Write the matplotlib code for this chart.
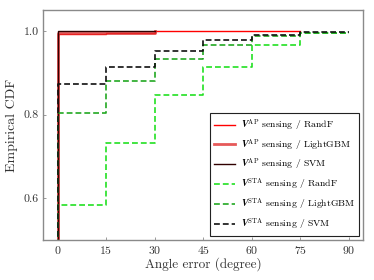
import matplotlib
matplotlib.use("Agg")
import matplotlib.pyplot as plt

plt.rcParams['font.family'] = ['cmr10', 'DejaVu Serif']
plt.rcParams['mathtext.fontset'] = 'cm'
plt.rcParams['axes.formatter.use_mathtext'] = True

# Angle error bins (degree)
ap_rf_x = [0, 0, 15, 30, 75]
ap_rf_y = [0, 0.992, 0.994, 0.9995, 1.0]
ap_lgbm_x = [0, 0, 15, 30]
ap_lgbm_y = [0, 0.994, 0.996, 1.0]
ap_svm_x = [0, 0, 30]
ap_svm_y = [0, 0.999, 1.0]

sta_x = [0, 0, 15, 30, 45, 60, 75, 90]
sta_rf_y = [0, 0.583, 0.731, 0.848, 0.914, 0.967, 0.994, 0.994]
sta_lgbm_y = [0, 0.803, 0.881, 0.934, 0.966, 0.987, 0.995, 0.995]
sta_svm_y = [0, 0.872, 0.915, 0.953, 0.978, 0.991, 0.998, 0.998]

labels = [
    r'$\mathbfit{V}^{\mathrm{AP}}$ sensing / RandF',
    r'$\mathbfit{V}^{\mathrm{AP}}$ sensing / LightGBM',
    r'$\mathbfit{V}^{\mathrm{AP}}$ sensing / SVM',
    r'$\mathbfit{V}^{\mathrm{STA}}$ sensing / RandF',
    r'$\mathbfit{V}^{\mathrm{STA}}$ sensing / LightGBM',
    r'$\mathbfit{V}^{\mathrm{STA}}$ sensing / SVM',
]
xticks = [0, 15, 30, 45, 60, 75, 90]
yticks = [0.6, 0.8, 1.0]

fig = plt.figure(figsize=(3.74, 2.8), dpi=100)
ax = fig.add_axes([0.115, 0.143, 0.856, 0.821])

ax.plot(ap_rf_x, ap_rf_y, drawstyle='steps-post', color='#ff0000', lw=1.0, label=labels[0])
ax.plot(ap_lgbm_x, ap_lgbm_y, drawstyle='steps-post', color='#e03030', alpha=0.8, lw=2.0, label=labels[1])
ax.plot(ap_svm_x, ap_svm_y, drawstyle='steps-post', color='#300000', lw=1.0, label=labels[2])
ax.plot(sta_x, sta_rf_y, drawstyle='steps-post', color='#22e022', lw=1.2, ls=(0, (3.5, 1.8)), label=labels[3])
ax.plot(sta_x, sta_lgbm_y, drawstyle='steps-post', color='#22a822', lw=1.2, ls=(0, (3.5, 1.8)), label=labels[4])
ax.plot(sta_x, sta_svm_y, drawstyle='steps-post', color='#111111', lw=1.2, ls=(0, (3.5, 1.8)), label=labels[5])

ax.set_xlim(-4.5, 94.5)
ax.set_ylim(0.5, 1.05)
ax.set_xticks(xticks)
ax.set_yticks(yticks)
ax.set_yticklabels(['0.6', '0.8', '1.0'])
for s in ax.spines.values():
    s.set_color('#8a8a8a')
    s.set_linewidth(1.0)
ax.tick_params(direction='in', length=2.5, width=0.6, color='#8a8a8a', labelsize=8.5,
               labelcolor='#333333', pad=3)
ax.set_xlabel('Angle error (degree)', fontsize=9.5, color='#333333', labelpad=1)
ax.set_ylabel('Empirical CDF', fontsize=10, color='#333333', labelpad=4)

leg = ax.legend(loc='lower right', fontsize=7, fancybox=False, framealpha=1,
                edgecolor='#222222', handlelength=2.2, labelspacing=0.45,
                borderaxespad=0.4, handletextpad=0.6)
leg.get_frame().set_linewidth(0.8)

fig.savefig('out.png', dpi=100)
